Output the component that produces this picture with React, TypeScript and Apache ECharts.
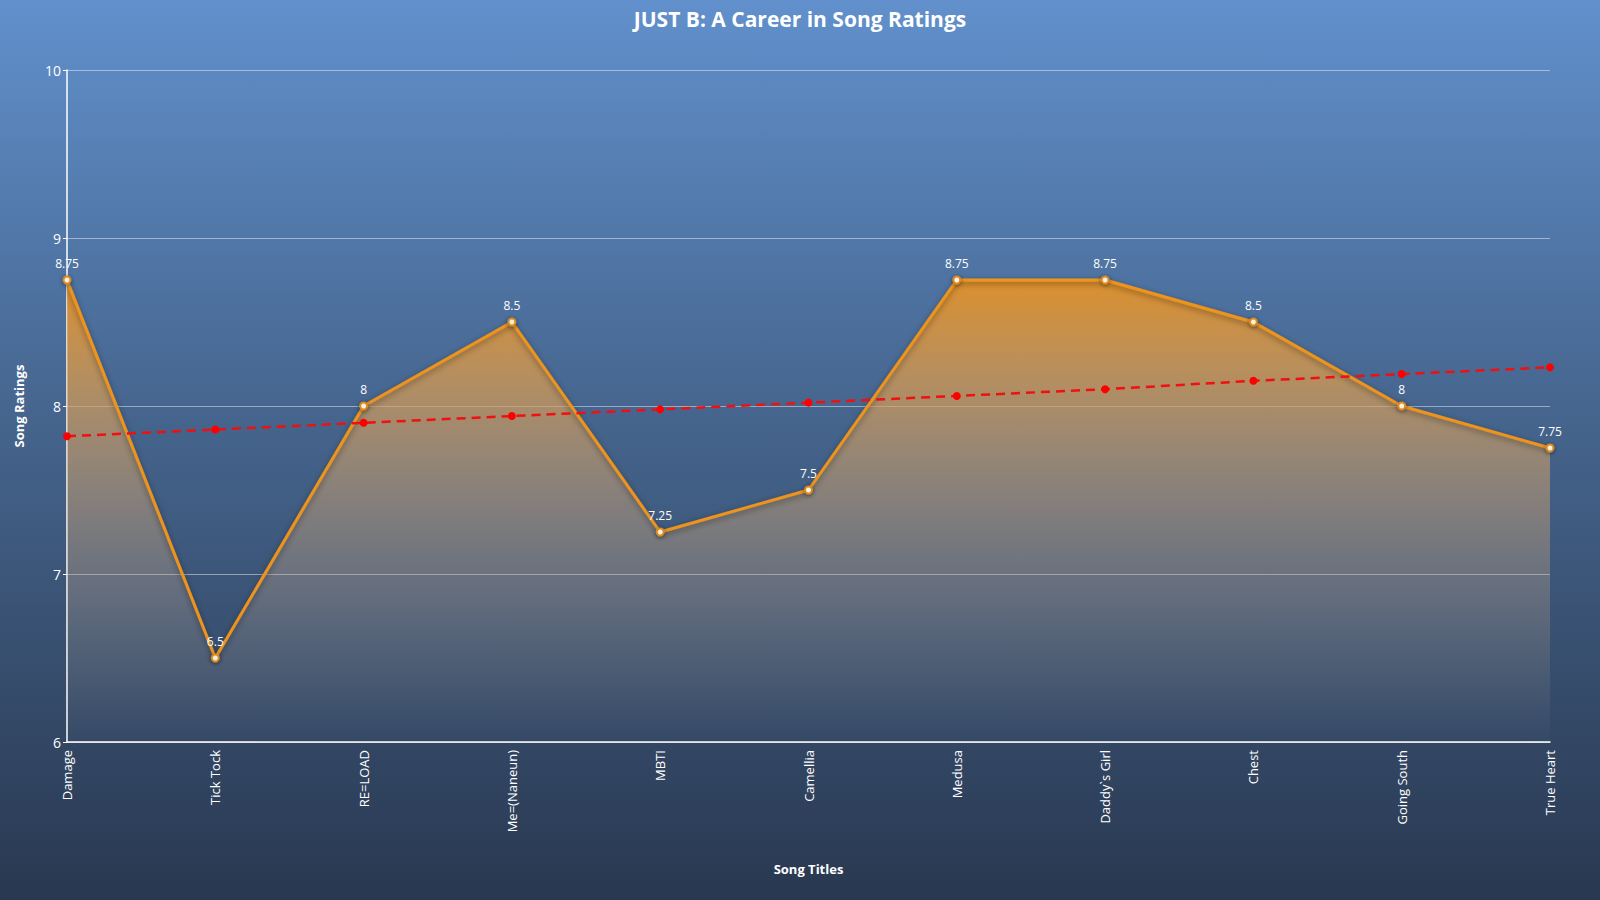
import { useEffect, useRef } from "react";
import * as echarts from "echarts";

const songs = [
  "Damage",
  "Tick Tock",
  "RE=LOAD",
  "Me=(Naneun)",
  "MBTI",
  "Camellia",
  "Medusa",
  "Daddy`s Girl",
  "Chest",
  "Going South",
  "True Heart",
];
const ratings = [8.75, 6.5, 8, 8.5, 7.25, 7.5, 8.75, 8.75, 8.5, 8, 7.75];
// trend line values
const trend = [7.82, 7.86, 7.9, 7.94, 7.98, 8.02, 8.06, 8.1, 8.15, 8.19, 8.23];
const yTicks = { min: 6, max: 10, interval: 1 };

const FONT = "'Open Sans', 'Noto Sans', sans-serif";

export default function App() {
  const chartRef = useRef<HTMLDivElement>(null);

  useEffect(() => {
    if (!chartRef.current) return;
    const chart = echarts.init(chartRef.current, null, { renderer: "svg" });

    chart.setOption({
      animation: false,
      backgroundColor: new echarts.graphic.LinearGradient(0, 0, 0, 1, [
        { offset: 0, color: "#6190cc" },
        { offset: 0.45, color: "#46668f" },
        { offset: 1, color: "#293850" },
      ]),
      textStyle: { fontFamily: FONT },
      title: {
        text: "JUST B: A Career in Song Ratings",
        left: "center",
        top: 3,
        textStyle: { color: "#ffffff", fontSize: 21, fontWeight: "bold", fontFamily: FONT },
      },
      grid: { left: 67, right: 50, top: 70, bottom: 158 },
      xAxis: {
        type: "category",
        data: songs,
        boundaryGap: false,
        name: "Song Titles",
        nameLocation: "middle",
        nameGap: 120,
        nameTextStyle: { color: "#ffffff", fontSize: 13, fontWeight: "bold" },
        axisLine: { lineStyle: { color: "#ffffff", width: 1.5 } },
        axisTick: { show: false },
        axisLabel: { color: "#ffffff", fontSize: 13, rotate: 90, margin: 8 },
        splitLine: { show: false },
      },
      yAxis: {
        type: "value",
        min: yTicks.min,
        max: yTicks.max,
        interval: yTicks.interval,
        name: "Song Ratings",
        nameLocation: "middle",
        nameGap: 42,
        nameTextStyle: { color: "#ffffff", fontSize: 13, fontWeight: "bold" },
        axisLine: { show: true, lineStyle: { color: "#ffffff", width: 1.5 } },
        axisTick: { show: true, length: 4, lineStyle: { color: "#ffffff" } },
        axisLabel: { color: "#ffffff", fontSize: 14, margin: 6 },
        splitLine: { lineStyle: { color: "rgba(255,255,255,0.45)", width: 1 } },
      },
      series: [
        {
          name: "Ratings",
          type: "line",
          data: ratings,
          symbol: "circle",
          symbolSize: 7,
          itemStyle: {
            color: "#fdf0dc",
            borderColor: "#d98a22",
            borderWidth: 2,
            shadowColor: "rgba(0,0,0,0.5)",
            shadowBlur: 4,
            shadowOffsetY: 1,
          },
          lineStyle: {
            color: "#ee931a",
            width: 3,
            shadowColor: "rgba(0,0,0,0.45)",
            shadowBlur: 6,
            shadowOffsetY: 2,
          },
          areaStyle: {
            opacity: 1,
            color: new echarts.graphic.LinearGradient(0, 0, 0, 1, [
              { offset: 0, color: "rgba(232,146,35,0.92)" },
              { offset: 0.27, color: "rgba(222,160,85,0.66)" },
              { offset: 0.64, color: "rgba(200,168,135,0.33)" },
              { offset: 1, color: "rgba(180,170,160,0.02)" },
            ]),
          },
          label: {
            show: true,
            position: "top",
            color: "#ffffff",
            fontSize: 12,
            distance: 6,
          },
          z: 2,
        },
        {
          name: "Trend",
          type: "line",
          data: trend,
          symbol: "circle",
          symbolSize: 8,
          itemStyle: { color: "#ff0000" },
          lineStyle: { color: "#f01010", width: 2.5, type: [9, 6] },
          z: 3,
        },
      ],
    });

    return () => chart.dispose();
  }, []);

  return (
    <div
      ref={chartRef}
      style={{ position: "fixed", left: 0, top: 0, width: 1600, height: 900 }}
    />
  );
}
